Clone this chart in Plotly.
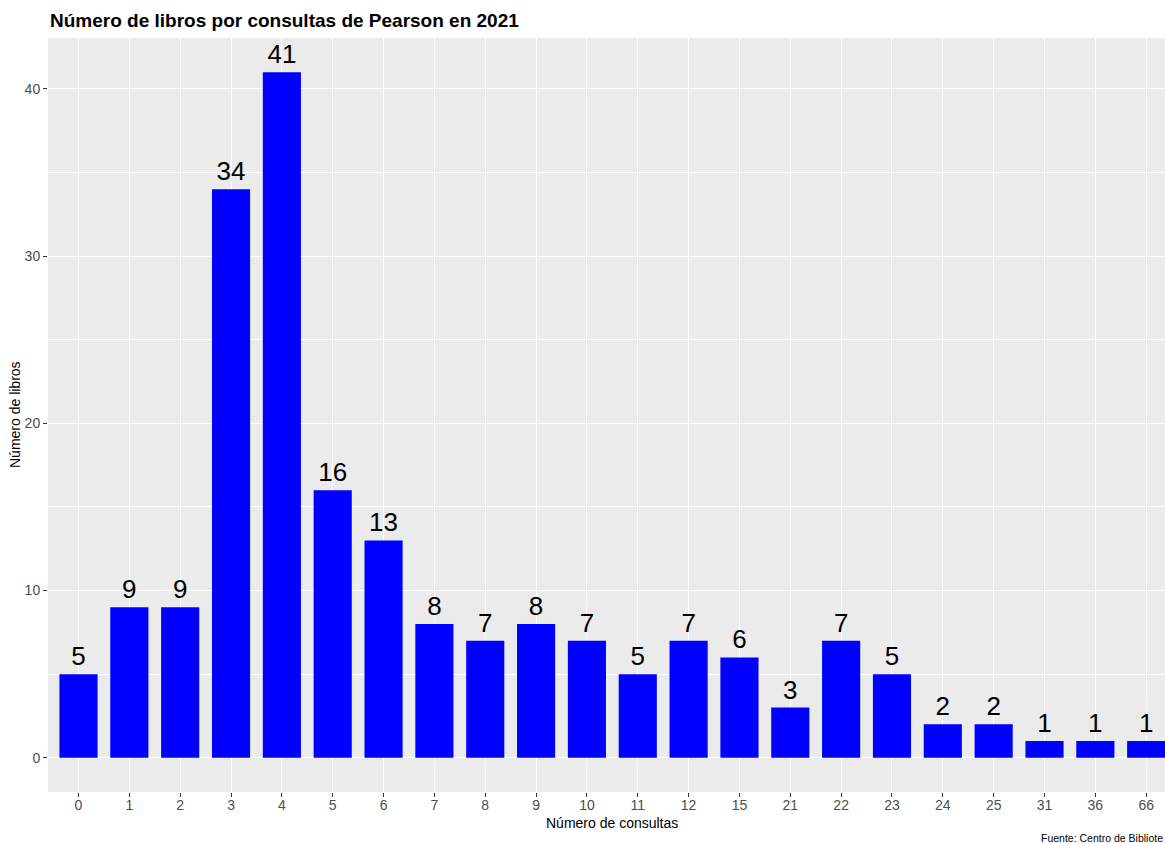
import plotly.graph_objects as go

categorias = ["0", "1", "2", "3", "4", "5", "6", "7", "8", "9", "10", "11",
              "12", "15", "21", "22", "23", "24", "25", "31", "36", "66"]
libros = [5, 9, 9, 34, 41, 16, 13, 8, 7, 8, 7, 5, 7, 6, 3, 7, 5, 2, 2, 1, 1, 1]

titulo = "Número de libros por consultas de Pearson en 2021"
titulo_x = "Número de consultas"
titulo_y = "Número de libros"
fuente = "Fuente: Centro de Bibliote"

FONT = "Liberation Sans, Arial, sans-serif"

fig = go.Figure()
fig.add_trace(go.Bar(
    x=categorias,
    y=libros,
    width=0.75,
    marker=dict(color="#0000ff", line=dict(width=0)),
    text=[str(v) for v in libros],
    textposition="outside",
    textfont=dict(size=26, color="black", family=FONT),
    constraintext="none",
    cliponaxis=False,
    hoverinfo="x+y",
))

fig.update_layout(
    width=1165,
    height=843,
    margin=dict(l=48, r=0, t=38, b=51),
    paper_bgcolor="white",
    plot_bgcolor="#ebebeb",
    showlegend=False,
    font=dict(family=FONT),
    bargap=0.25,
    annotations=[
        dict(text="<b>" + titulo + "</b>", xref="paper", yref="paper",
             x=0, y=1, xanchor="left", yanchor="bottom", yshift=5,
             showarrow=False, font=dict(size=19, color="black", family=FONT)),
        dict(text=titulo_x, xref="x", yref="paper", x=10.5, y=0,
             xanchor="center", yanchor="top", yshift=-21,
             showarrow=False, font=dict(size=14, color="black", family=FONT)),
        dict(text=titulo_y, xref="paper", yref="paper", x=0, y=0.5,
             xanchor="center", yanchor="middle", xshift=-33, textangle=-90,
             showarrow=False, font=dict(size=14, color="black", family=FONT)),
        dict(text=fuente, xref="paper", yref="paper", x=1, y=0,
             xanchor="right", yanchor="top", yshift=-38,
             showarrow=False, font=dict(size=10.5, color="black", family=FONT)),
    ],
)

fig.update_xaxes(
    type="category",
    range=[-0.6, 21.37],
    showgrid=True, gridcolor="white", gridwidth=1.1,
    ticks="outside", ticklen=4, tickcolor="#333333", tickwidth=1,
    ticklabelstandoff=-4,
    tickfont=dict(size=14, color="#4d4d4d", family=FONT),
    zeroline=False, showline=False,
)
fig.update_yaxes(
    range=[-2.05, 43.05],
    tickvals=[0, 10, 20, 30, 40],
    showgrid=True, gridcolor="white", gridwidth=1.1,
    minor=dict(tickvals=[5, 15, 25, 35], showgrid=True, gridcolor="white", gridwidth=0.5),
    ticks="outside", ticklen=4, tickcolor="#333333", tickwidth=1,
    tickfont=dict(size=14, color="#4d4d4d", family=FONT),
    zeroline=False, showline=False,
)

fig.write_html(
    "out.html",
    config={"displayModeBar": False},
    post_script="document.body.style.margin='0';document.body.style.overflow='hidden';",
)
